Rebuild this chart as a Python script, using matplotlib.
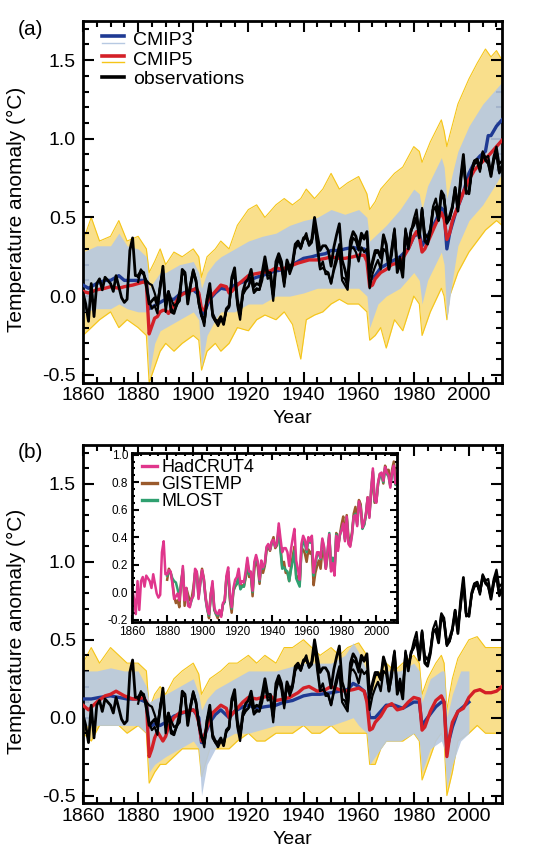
import matplotlib
matplotlib.use("Agg")
import matplotlib.pyplot as plt
from matplotlib.lines import Line2D
from matplotlib.legend_handler import HandlerBase
from matplotlib.ticker import MultipleLocator

plt.rcParams['font.family'] = ['Liberation Sans', 'DejaVu Sans']
plt.rcParams['axes.unicode_minus'] = False

# ---- observations (annual anomalies, deg C) ----
had_years = list(range(1860, 2013))
hadcrut4 = [
    0.02, -0.05, -0.16, 0.08, -0.13, 0.08, 0.11, 0.04, 0.12, 0.10,     # 1860s
    0.08, 0.03, 0.13, 0.06, -0.01, -0.04, -0.02, 0.29, 0.37, 0.13,     # 1870s
    0.13, 0.16, 0.15, 0.06, -0.05, -0.03, -0.01, -0.06, 0.05, 0.19,    # 1880s
    -0.06, 0.03, -0.10, -0.11, -0.05, -0.03, 0.17, 0.15, -0.05, 0.07,  # 1890s
    0.16, 0.10, -0.04, -0.12, -0.16, -0.02, 0.08, -0.11, -0.15, -0.16,  # 1900s
    -0.13, -0.18, -0.08, -0.06, 0.12, 0.18, -0.02, -0.11, 0.03, 0.09,  # 1910s
    0.11, 0.17, 0.06, 0.08, 0.07, 0.15, 0.25, 0.15, 0.15, 0.01,        # 1920s
    0.22, 0.27, 0.22, 0.09, 0.23, 0.18, 0.21, 0.33, 0.35, 0.31,        # 1930s
    0.37, 0.38, 0.33, 0.36, 0.50, 0.39, 0.29, 0.32, 0.32, 0.29,        # 1940s
    0.19, 0.31, 0.39, 0.46, 0.23, 0.17, 0.09, 0.35, 0.41, 0.38,        # 1950s
    0.31, 0.40, 0.37, 0.41, 0.14, 0.22, 0.29, 0.29, 0.25, 0.39,        # 1960s
    0.33, 0.17, 0.30, 0.42, 0.15, 0.21, 0.12, 0.41, 0.30, 0.42,        # 1970s
    0.45, 0.50, 0.37, 0.55, 0.35, 0.33, 0.41, 0.55, 0.56, 0.48,        # 1980s
    0.66, 0.61, 0.47, 0.51, 0.57, 0.69, 0.54, 0.75, 0.90, 0.67,        # 1990s
    0.65, 0.80, 0.86, 0.87, 0.81, 0.91, 0.87, 0.85, 0.76, 0.87,        # 2000s
    0.92, 0.79, 0.83]

obs_years = list(range(1880, 2013))
gistemp = [
    0.09, 0.17, 0.14, 0.08, -0.03, -0.08, -0.06, -0.11, 0.08, 0.15,
    -0.10, 0.03, -0.02, -0.06, -0.05, 0.03, 0.14, 0.14, -0.01, 0.08,
    0.17, 0.10, -0.03, -0.12, -0.19, -0.01, 0.05, -0.13, -0.16, -0.19,
    -0.15, -0.17, -0.09, -0.07, 0.11, 0.13, -0.06, -0.15, 0.01, 0.04,
    0.06, 0.12, 0.03, 0.05, 0.04, 0.10, 0.21, 0.11, 0.12, -0.03,
    0.17, 0.24, 0.18, 0.06, 0.21, 0.14, 0.19, 0.30, 0.33, 0.30,
    0.36, 0.40, 0.32, 0.34, 0.45, 0.34, 0.18, 0.22, 0.14, 0.14,
    0.08, 0.18, 0.26, 0.33, 0.12, 0.11, 0.06, 0.30, 0.31, 0.28,
    0.22, 0.31, 0.28, 0.30, 0.05, 0.14, 0.19, 0.23, 0.17, 0.30,
    0.28, 0.17, 0.26, 0.41, 0.18, 0.24, 0.15, 0.43, 0.32, 0.41,
    0.49, 0.55, 0.39, 0.56, 0.40, 0.37, 0.43, 0.57, 0.62, 0.52,
    0.67, 0.64, 0.47, 0.49, 0.56, 0.69, 0.58, 0.71, 0.87, 0.65,
    0.66, 0.79, 0.86, 0.86, 0.79, 0.92, 0.88, 0.89, 0.78, 0.89,
    0.95, 0.84, 0.86]
mlost = [
    0.12, 0.15, 0.14, 0.10, 0.08, 0.07, 0.02, -0.04, 0.06, 0.17,
    -0.05, 0.02, -0.08, -0.10, -0.06, -0.02, 0.14, 0.14, -0.04, 0.06,
    0.15, 0.09, -0.05, -0.13, -0.17, -0.04, 0.06, -0.12, -0.16, -0.17,
    -0.14, -0.17, -0.09, -0.07, 0.10, 0.15, -0.04, -0.12, 0.01, 0.05,
    0.06, 0.11, 0.02, 0.04, 0.04, 0.12, 0.22, 0.13, 0.13, 0.00,
    0.20, 0.25, 0.21, 0.08, 0.21, 0.17, 0.20, 0.32, 0.34, 0.31,
    0.36, 0.37, 0.33, 0.35, 0.47, 0.30, 0.17, 0.18, 0.16, 0.15,
    0.08, 0.16, 0.22, 0.30, 0.10, 0.07, 0.04, 0.30, 0.37, 0.35,
    0.29, 0.38, 0.36, 0.39, 0.12, 0.20, 0.27, 0.28, 0.24, 0.38,
    0.32, 0.18, 0.29, 0.43, 0.17, 0.25, 0.15, 0.42, 0.33, 0.41,
    0.46, 0.49, 0.38, 0.54, 0.36, 0.34, 0.42, 0.55, 0.57, 0.49,
    0.65, 0.62, 0.46, 0.49, 0.56, 0.68, 0.55, 0.74, 0.88, 0.66,
    0.66, 0.79, 0.84, 0.85, 0.80, 0.90, 0.86, 0.84, 0.77, 0.86,
    0.90, 0.78, 0.81]

# ---- multi-model means: (year, anomaly) ----
cmip5_all_mean = [
    (1860, 0.03), (1862, 0.02), (1865, 0.04), (1868, 0.05), (1870, 0.06), (1873, 0.05),
    (1875, 0.06), (1878, 0.07), (1880, 0.08), (1882, 0.09), (1883, 0.08), (1884, -0.24),
    (1885, -0.19), (1886, -0.14), (1887, -0.13), (1888, -0.10), (1889, -0.09), (1890, -0.09),
    (1891, -0.11), (1893, -0.06), (1895, 0.00), (1897, 0.02), (1900, 0.04), (1901, 0.05),
    (1902, 0.02), (1903, -0.08), (1904, -0.09), (1905, -0.04), (1906, -0.01), (1908, 0.03),
    (1910, 0.07), (1912, 0.06), (1913, 0.02), (1914, 0.03), (1916, 0.07), (1918, 0.10),
    (1920, 0.13), (1922, 0.14), (1925, 0.15), (1928, 0.16), (1930, 0.18), (1932, 0.17),
    (1935, 0.19), (1938, 0.21), (1940, 0.22), (1942, 0.23), (1945, 0.23), (1948, 0.24),
    (1950, 0.25), (1953, 0.24), (1955, 0.24), (1958, 0.25), (1960, 0.26), (1962, 0.26),
    (1963, 0.22), (1964, 0.06), (1965, 0.07), (1966, 0.11), (1968, 0.15), (1970, 0.17),
    (1972, 0.20), (1974, 0.21), (1976, 0.24), (1978, 0.30), (1980, 0.38), (1981, 0.41),
    (1982, 0.38), (1983, 0.28), (1984, 0.30), (1986, 0.38), (1988, 0.46), (1990, 0.53),
    (1991, 0.49), (1992, 0.36), (1993, 0.40), (1994, 0.48), (1996, 0.57), (1998, 0.66),
    (2000, 0.74), (2002, 0.80), (2004, 0.84), (2006, 0.87), (2008, 0.91), (2010, 0.95),
    (2012, 0.99)]
cmip3_all_mean = [
    (1860, 0.07), (1862, 0.05), (1865, 0.08), (1868, 0.10), (1870, 0.10), (1873, 0.13),
    (1875, 0.10), (1878, 0.10), (1880, 0.10), (1882, 0.10), (1883, 0.09), (1884, -0.08),
    (1886, -0.06), (1888, -0.04), (1890, -0.02), (1893, -0.02), (1895, 0.01), (1898, 0.03),
    (1900, 0.04), (1902, 0.01), (1903, -0.12), (1904, -0.10), (1906, -0.02), (1908, 0.02),
    (1910, 0.05), (1913, 0.04), (1915, 0.07), (1918, 0.09), (1920, 0.10), (1923, 0.12),
    (1925, 0.13), (1928, 0.15), (1930, 0.16), (1933, 0.17), (1935, 0.19), (1938, 0.22),
    (1940, 0.24), (1943, 0.25), (1945, 0.26), (1948, 0.27), (1950, 0.29), (1953, 0.29),
    (1955, 0.30), (1958, 0.31), (1960, 0.30), (1962, 0.30), (1963, 0.27), (1964, 0.10),
    (1966, 0.13), (1968, 0.18), (1970, 0.20), (1973, 0.23), (1975, 0.25), (1978, 0.30),
    (1980, 0.38), (1982, 0.40), (1983, 0.32), (1985, 0.38), (1988, 0.48), (1990, 0.56),
    (1991, 0.54), (1992, 0.30), (1993, 0.40), (1995, 0.52), (1998, 0.66), (2000, 0.78),
    (2002, 0.85), (2004, 0.89), (2006, 0.92), (2007, 1.02), (2008, 1.02), (2010, 1.08),
    (2012, 1.12)]
cmip5_nat_mean = [
    (1860, 0.08), (1862, 0.05), (1865, 0.10), (1868, 0.14), (1870, 0.15), (1872, 0.17),
    (1875, 0.14), (1878, 0.12), (1880, 0.12), (1882, 0.13), (1883, 0.10), (1884, -0.25),
    (1885, -0.20), (1886, -0.13), (1887, -0.09), (1888, -0.12), (1889, -0.15), (1890, -0.12),
    (1891, -0.06), (1893, 0.00), (1895, 0.03), (1898, 0.04), (1900, 0.05), (1901, 0.03),
    (1902, -0.03), (1903, -0.15), (1904, -0.12), (1905, -0.06), (1907, 0.03), (1910, 0.08),
    (1912, 0.06), (1913, 0.00), (1915, 0.04), (1918, 0.10), (1920, 0.13), (1923, 0.12),
    (1925, 0.13), (1928, 0.14), (1930, 0.11), (1933, 0.12), (1935, 0.13), (1938, 0.16),
    (1940, 0.19), (1942, 0.20), (1945, 0.17), (1948, 0.18), (1950, 0.20), (1953, 0.18),
    (1955, 0.17), (1958, 0.18), (1960, 0.19), (1962, 0.17), (1963, 0.10), (1964, -0.08),
    (1965, -0.07), (1966, -0.03), (1968, 0.01), (1970, 0.07), (1972, 0.09), (1974, 0.05),
    (1976, 0.06), (1978, 0.10), (1980, 0.13), (1982, 0.12), (1983, -0.08), (1984, -0.06),
    (1986, 0.04), (1988, 0.11), (1990, 0.14), (1991, 0.10), (1992, -0.25), (1993, -0.12),
    (1994, -0.03), (1996, 0.04), (1998, 0.06), (2000, 0.13), (2002, 0.17), (2004, 0.18),
    (2006, 0.16), (2008, 0.16), (2010, 0.17), (2012, 0.20)]
cmip3_nat_mean = [
    (1860, 0.12), (1863, 0.12), (1866, 0.13), (1870, 0.14), (1873, 0.13), (1876, 0.12),
    (1880, 0.12), (1883, 0.10), (1884, -0.06), (1886, -0.04), (1888, -0.05), (1890, -0.03),
    (1893, 0.01), (1896, 0.03), (1900, 0.05), (1902, 0.00), (1903, -0.16), (1904, -0.12),
    (1906, -0.03), (1908, 0.02), (1910, 0.05), (1913, 0.00), (1915, 0.04), (1918, 0.07),
    (1920, 0.08), (1923, 0.06), (1926, 0.07), (1930, 0.08), (1933, 0.10), (1936, 0.11),
    (1940, 0.14), (1943, 0.15), (1946, 0.15), (1950, 0.16), (1953, 0.17), (1956, 0.18),
    (1958, 0.22), (1960, 0.20), (1962, 0.17), (1963, 0.12), (1964, 0.00), (1966, 0.00),
    (1968, 0.04), (1970, 0.08), (1973, 0.08), (1976, 0.06), (1978, 0.08), (1980, 0.10),
    (1982, 0.10), (1983, -0.05), (1985, 0.00), (1988, 0.07), (1990, 0.10), (1991, 0.10),
    (1992, -0.20), (1994, -0.06), (1996, 0.04), (1998, 0.07), (2000, 0.10)]

# ---- ensemble spread: (year, low, high) ----
cmip5_all_range = [
    (1860, -0.25, 0.35), (1863, -0.20, 0.50), (1866, -0.15, 0.35), (1870, -0.10, 0.38),
    (1873, -0.20, 0.48), (1876, -0.15, 0.35), (1880, -0.20, 0.38), (1883, -0.25, 0.30),
    (1884, -0.55, 0.15), (1886, -0.45, 0.22), (1888, -0.35, 0.30), (1890, -0.30, 0.20),
    (1893, -0.35, 0.28), (1896, -0.30, 0.25), (1900, -0.25, 0.30), (1902, -0.28, 0.25),
    (1903, -0.47, 0.12), (1905, -0.35, 0.25), (1908, -0.30, 0.30), (1910, -0.35, 0.35),
    (1913, -0.30, 0.30), (1916, -0.20, 0.45), (1920, -0.22, 0.55), (1923, -0.15, 0.58),
    (1926, -0.12, 0.50), (1930, -0.15, 0.58), (1933, -0.10, 0.62), (1936, -0.18, 0.58),
    (1939, -0.40, 0.62), (1941, -0.15, 0.68), (1944, -0.12, 0.62), (1947, -0.10, 0.68),
    (1950, -0.05, 0.78), (1953, -0.02, 0.68), (1956, -0.05, 0.72), (1960, -0.05, 0.76),
    (1963, -0.10, 0.65), (1964, -0.28, 0.55), (1966, -0.25, 0.60), (1968, -0.20, 0.68),
    (1970, -0.33, 0.72), (1973, -0.15, 0.78), (1976, -0.22, 0.82), (1980, 0.00, 0.95),
    (1982, -0.05, 0.92), (1983, -0.25, 0.85), (1986, -0.10, 0.98), (1990, 0.05, 1.12),
    (1991, 0.00, 1.05), (1992, -0.15, 0.95), (1993, 0.00, 1.02), (1996, 0.15, 1.22),
    (2000, 0.28, 1.38), (2003, 0.35, 1.48), (2006, 0.42, 1.57), (2008, 0.45, 1.52),
    (2010, 0.48, 1.56), (2012, 0.45, 1.50)]
cmip3_all_range = [
    (1860, -0.10, 0.28), (1865, -0.08, 0.32), (1870, -0.08, 0.32), (1873, -0.05, 0.40),
    (1876, -0.08, 0.32), (1880, -0.10, 0.30), (1883, -0.10, 0.25), (1884, -0.50, 0.05),
    (1886, -0.30, 0.10), (1888, -0.22, 0.15), (1890, -0.20, 0.15), (1895, -0.15, 0.20),
    (1900, -0.10, 0.22), (1902, -0.15, 0.15), (1903, -0.45, 0.05), (1905, -0.25, 0.15),
    (1908, -0.15, 0.22), (1910, -0.10, 0.25), (1915, -0.10, 0.30), (1920, -0.05, 0.35),
    (1925, -0.05, 0.38), (1930, 0.00, 0.40), (1935, 0.00, 0.45), (1940, 0.02, 0.48),
    (1945, 0.05, 0.50), (1950, 0.05, 0.55), (1955, 0.05, 0.52), (1960, 0.05, 0.55),
    (1963, 0.00, 0.50), (1964, -0.20, 0.35), (1967, -0.05, 0.40), (1970, 0.00, 0.45),
    (1975, 0.05, 0.55), (1980, 0.15, 0.68), (1982, 0.10, 0.65), (1983, -0.05, 0.55),
    (1985, 0.10, 0.70), (1990, 0.28, 0.88), (1991, 0.20, 0.82), (1992, -0.15, 0.62),
    (1994, 0.10, 0.78), (1996, 0.32, 0.92), (2000, 0.48, 1.08), (2005, 0.58, 1.22),
    (2010, 0.72, 1.32), (2012, 0.78, 1.36)]
cmip5_nat_range = [
    (1860, -0.10, 0.35), (1863, -0.15, 0.45), (1866, -0.05, 0.35), (1870, -0.05, 0.45),
    (1873, -0.05, 0.40), (1876, -0.10, 0.35), (1880, -0.05, 0.35), (1883, -0.10, 0.30),
    (1884, -0.42, 0.05), (1886, -0.35, 0.15), (1888, -0.30, 0.20), (1890, -0.30, 0.15),
    (1893, -0.25, 0.25), (1896, -0.20, 0.30), (1900, -0.20, 0.35), (1902, -0.20, 0.28),
    (1903, -0.38, 0.15), (1906, -0.20, 0.25), (1910, -0.20, 0.30), (1913, -0.20, 0.35),
    (1916, -0.15, 0.35), (1920, -0.10, 0.40), (1923, -0.15, 0.35), (1926, -0.15, 0.40),
    (1930, -0.10, 0.35), (1933, -0.10, 0.45), (1936, -0.10, 0.45), (1940, -0.05, 0.50),
    (1943, -0.10, 0.45), (1946, -0.10, 0.40), (1950, -0.05, 0.45), (1953, -0.10, 0.40),
    (1956, -0.10, 0.45), (1960, -0.10, 0.48), (1963, -0.10, 0.40), (1964, -0.30, 0.15),
    (1966, -0.30, 0.25), (1968, -0.20, 0.30), (1970, -0.15, 0.35), (1973, -0.15, 0.30),
    (1976, -0.15, 0.35), (1980, -0.10, 0.40), (1982, -0.15, 0.35), (1983, -0.40, 0.15),
    (1985, -0.30, 0.25), (1988, -0.15, 0.35), (1990, -0.10, 0.40), (1991, -0.15, 0.35),
    (1992, -0.50, 0.05), (1994, -0.35, 0.25), (1996, -0.15, 0.38), (2000, -0.10, 0.50),
    (2003, -0.05, 0.52), (2006, -0.10, 0.45), (2009, -0.10, 0.45), (2012, -0.10, 0.45)]
cmip3_nat_range = [
    (1860, -0.05, 0.30), (1865, -0.05, 0.30), (1870, -0.05, 0.32), (1875, -0.05, 0.30),
    (1880, -0.05, 0.30), (1883, -0.10, 0.20), (1884, -0.35, 0.10), (1886, -0.30, 0.12),
    (1890, -0.25, 0.15), (1895, -0.20, 0.20), (1900, -0.15, 0.25), (1902, -0.20, 0.15),
    (1903, -0.50, 0.05), (1905, -0.30, 0.12), (1908, -0.20, 0.18), (1910, -0.15, 0.20),
    (1915, -0.10, 0.25), (1920, -0.10, 0.30), (1930, -0.05, 0.30), (1940, -0.05, 0.35),
    (1950, -0.05, 0.35), (1955, -0.02, 0.40), (1958, 0.00, 0.48), (1960, -0.05, 0.42),
    (1963, -0.10, 0.30), (1964, -0.30, 0.15), (1966, -0.25, 0.20), (1970, -0.15, 0.30),
    (1975, -0.15, 0.30), (1980, -0.10, 0.35), (1982, -0.15, 0.30), (1983, -0.35, 0.10),
    (1986, -0.20, 0.25), (1990, -0.15, 0.30), (1991, -0.20, 0.30), (1992, -0.45, 0.00),
    (1994, -0.30, 0.15), (1997, -0.15, 0.30), (2000, -0.10, 0.30)]

BLUE = '#1f3a93'
RED = '#d42027'
LIGHTBLUE = '#b7c9e2'
YELLOW = '#f5c518'
PALEYELLOW = '#f9df8c'


class PairHandler(HandlerBase):
    # thick mean line with the thin member colour just underneath
    def create_artists(self, legend, orig_handle, xdescent, ydescent,
                       width, height, fontsize, trans):
        thick, thin = orig_handle
        y = height / 2 - ydescent
        a = Line2D([-xdescent, width - xdescent], [y + 1.5, y + 1.5],
                   color=thick, lw=2.6, transform=trans)
        b = Line2D([-xdescent, width - xdescent], [y - 3, y - 3],
                   color=thin, lw=1.0, transform=trans)
        return [a, b]


def style_axes(ax, major_len=8, minor_len=4, labelsize=14):
    for s in ax.spines.values():
        s.set_linewidth(2)
    ax.tick_params(which='both', direction='in', top=True, right=True,
                   width=1.5, labelsize=labelsize)
    ax.tick_params(which='major', length=major_len)
    ax.tick_params(which='minor', length=minor_len)


def draw_panel(ax, rng5, rng3, mean5, mean3):
    y5, lo5, hi5 = zip(*rng5)
    y3, lo3, hi3 = zip(*rng3)
    ax.fill_between(y5, lo5, hi5, color=PALEYELLOW, lw=0, zorder=1)
    ax.plot(y5, lo5, color=YELLOW, lw=0.8, zorder=1.5)
    ax.plot(y5, hi5, color=YELLOW, lw=0.8, zorder=1.5)
    ax.fill_between(y3, lo3, hi3, color=LIGHTBLUE, lw=0, alpha=0.9, zorder=2)
    ax.plot(had_years, hadcrut4, color='black', lw=2.0, zorder=4)
    ax.plot(obs_years, gistemp, color='black', lw=1.6, zorder=4)
    ax.plot(obs_years, mlost, color='black', lw=1.6, zorder=4)
    x3, m3 = zip(*mean3)
    x5, m5 = zip(*mean5)
    ax.plot(x3, m3, color=BLUE, lw=2.4, zorder=3)
    ax.plot(x5, m5, color=RED, lw=2.4, zorder=3.2)
    ax.set_xlim(1860, 2012)
    ax.set_ylim(-0.55, 1.75)
    ax.xaxis.set_major_locator(MultipleLocator(20))
    ax.xaxis.set_minor_locator(MultipleLocator(5))
    ax.yaxis.set_minor_locator(MultipleLocator(0.1))
    ax.set_yticks([-0.5, 0.0, 0.5, 1.0, 1.5])
    ax.set_yticklabels(['-0.5', '0.0', '0.5', '1.0', '1.5'])
    style_axes(ax)
    ax.tick_params(axis='x', pad=3)
    ax.tick_params(axis='y', pad=5)
    ax.set_xlabel('Year', fontsize=14)
    ax.set_ylabel('Temperature anomaly (\u00b0C)', fontsize=15)
    ax.xaxis.set_label_coords(0.5, -0.076)
    ax.yaxis.set_label_coords(-0.135, 0.48)


fig = plt.figure(figsize=(5.42, 8.59), dpi=100)
ax_a = fig.add_axes([0.1531, 0.5545, 0.7731, 0.4214])
ax_b = fig.add_axes([0.1531, 0.0648, 0.7731, 0.4171])

draw_panel(ax_a, cmip5_all_range, cmip3_all_range, cmip5_all_mean, cmip3_all_mean)
draw_panel(ax_b, cmip5_nat_range, cmip3_nat_range, cmip5_nat_mean, cmip3_nat_mean)

ax_a.legend([(BLUE, LIGHTBLUE), (RED, YELLOW), Line2D([], [], color='black', lw=2.6)],
            ['CMIP3', 'CMIP5', 'observations'],
            handler_map={tuple: PairHandler()},
            loc='upper left', bbox_to_anchor=(0.045, 0.97), frameon=False,
            fontsize=14, handlelength=1.15, handletextpad=0.45,
            labelspacing=0.1, borderaxespad=0, borderpad=0)

fig.text(0.057, 0.966, '(a)', fontsize=15, ha='center', va='center')
fig.text(0.057, 0.473, '(b)', fontsize=15, ha='center', va='center')

# inset with the three observational datasets
ins = fig.add_axes([0.2441, 0.2763, 0.4889, 0.196])
ins.plot(obs_years, gistemp, color='#9a5a2c', lw=1.8)
ins.plot(obs_years, mlost, color='#2fa070', lw=1.8)
ins.plot(had_years, hadcrut4, color='#e0368c', lw=1.8)
ins.set_xlim(1860, 2012)
ins.set_ylim(-0.215, 1.01)
ins.xaxis.set_major_locator(MultipleLocator(20))
ins.xaxis.set_minor_locator(MultipleLocator(5))
ins.set_yticks([-0.2, 0.0, 0.2, 0.4, 0.6, 0.8, 1.0])
ins.yaxis.set_minor_locator(MultipleLocator(0.05))
style_axes(ins, major_len=5, minor_len=2.5, labelsize=8.5)
ins.tick_params(pad=3)
ins.legend([Line2D([], [], color='#e0368c', lw=2.4),
            Line2D([], [], color='#9a5a2c', lw=2.4),
            Line2D([], [], color='#2fa070', lw=2.4)],
           ['HadCRUT4', 'GISTEMP', 'MLOST'],
           loc='upper left', bbox_to_anchor=(0.035, 0.965), frameon=False,
           fontsize=13, handlelength=0.85, handletextpad=0.25,
           labelspacing=0.0, borderaxespad=0, borderpad=0)

fig.savefig('out.png', dpi=100)
